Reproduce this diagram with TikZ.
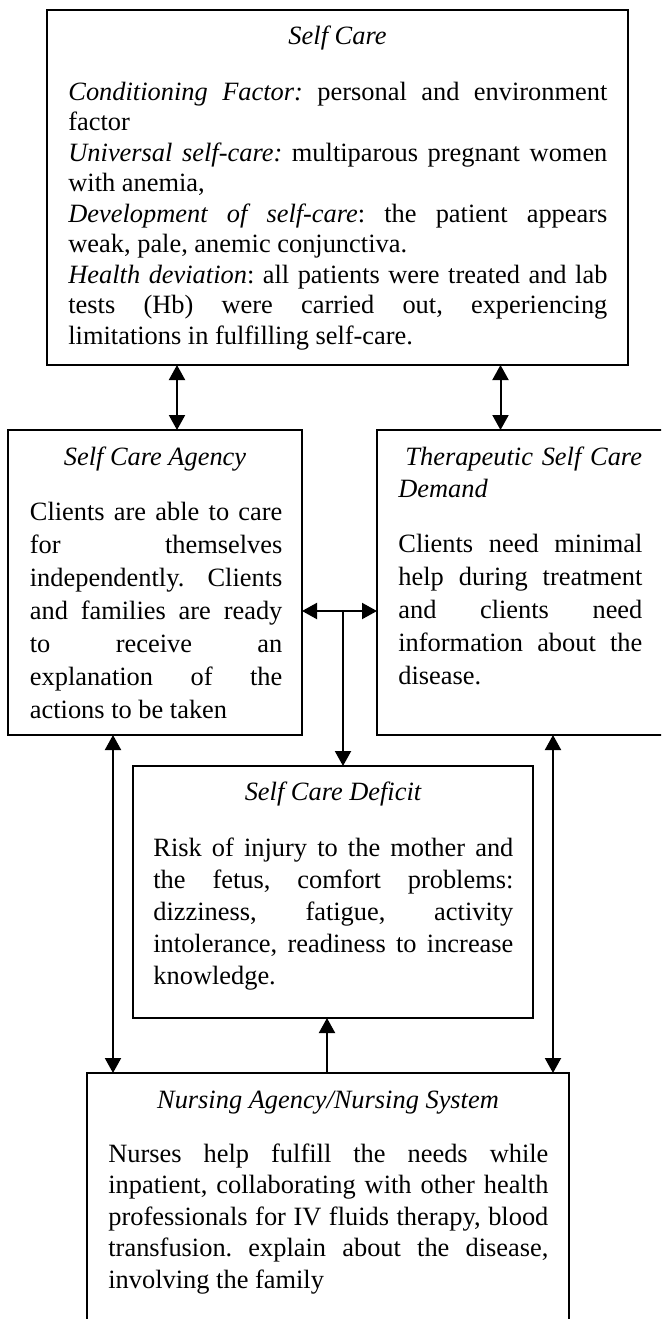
\documentclass[tikz,border=0pt]{standalone}
\usepackage{fontspec}
\setmainfont{Liberation Serif}
\usetikzlibrary{arrows.meta}
\frenchspacing
\begin{document}
\begin{tikzpicture}[x=0.5pt,y=-0.5pt,
  box/.style={draw, line width=0.75pt, inner sep=0pt, outer sep=0pt, anchor=north west},
  ttl/.style={anchor=base, inner sep=0pt, font=\fontsize{13.2}{16}\selectfont\itshape},
  bodytxt/.style={anchor=base west, inner sep=0pt, align=justify},
  tip/.tip={Triangle[width=8pt,length=7.5pt]},
  biarrow/.style={line width=1pt, tip-tip},
  onearrow/.style={line width=1pt, -tip}]
\useasboundingbox (0,0) rectangle (661,1319);
\clip (0,0) rectangle (661,1319);

% boxes
\node[box, minimum width=290.5pt, minimum height=177.5pt] (top) at (47,10) {};
\node[box, minimum width=147pt, minimum height=152.5pt] (agency) at (8,430) {};
\node[box, minimum width=143.5pt, minimum height=152.5pt] (ther) at (377,430) {};
\node[box, minimum width=200pt, minimum height=126pt] (deficit) at (133,766) {};
\node[box, minimum width=241pt, minimum height=140pt] (nurse) at (87,1073) {};

% texts: Self Care
\node[ttl] (topT) at (337.5,44) {Self Care};
\node[bodytxt, text width=269.5pt, font=\fontsize{13.2}{15.25}\selectfont] (topB) at (68,100)
{\textit{Conditioning Factor:} personal and environment\linebreak factor\par
\textit{Universal self-care:} multiparous pregnant women\linebreak with anemia,\par
\textit{Development of self-care}: the patient appears\linebreak weak, pale, anemic conjunctiva.\par
\textit{Health deviation}: all patients were treated and lab\linebreak tests (Hb) were carried out, experiencing\linebreak limitations in fulfilling self-care.\par};

% Self Care Agency
\node[ttl] (agT) at (155,465) {Self Care Agency};
\node[bodytxt, text width=126.25pt, font=\fontsize{13.2}{16.5}\selectfont] (agB) at (29.5,520)
{Clients are able to care\linebreak for themselves\linebreak independently. Clients\linebreak and families are ready\linebreak to receive an\linebreak explanation of the\linebreak actions to be taken\par};

% Therapeutic Self Care Demand
\node[anchor=base west, inner sep=0pt, align=left, text width=122pt, font=\fontsize{13.2}{16}\selectfont\itshape] (thT) at (398,465)
{\hspace*{3.5pt}Therapeutic Self Care\\Demand};
\node[bodytxt, text width=122pt, font=\fontsize{13.2}{16.5}\selectfont] (thB) at (398,552)
{Clients need minimal\linebreak help during treatment\linebreak and clients need\linebreak information about the\linebreak disease.\par};

% Self Care Deficit
\node[ttl] (dfT) at (333,800) {Self Care Deficit};
\node[bodytxt, text width=180pt, font=\fontsize{13.2}{16}\selectfont] (dfB) at (153,856)
{Risk of injury to the mother and\linebreak the fetus, comfort problems:\linebreak dizziness, fatigue, activity\linebreak intolerance, readiness to increase\linebreak knowledge.\par};

% Nursing Agency
\node[ttl] (nuT) at (328,1108) {Nursing Agency/Nursing System};
\node[bodytxt, text width=220pt, font=\fontsize{13.2}{15.75}\selectfont] (nuB) at (108,1162)
{Nurses help fulfill the needs while\linebreak inpatient, collaborating with other health\linebreak professionals for IV fluids therapy, blood\linebreak transfusion. explain about the disease,\linebreak involving the family\par};

% connector positions
\coordinate (xL) at (177,0);
\coordinate (xR) at (500.5,0);
\coordinate (xM) at (343,0);
\coordinate (xLL) at (113,0);
\coordinate (xRR) at (553,0);
\coordinate (xU) at (327,0);
\coordinate (yH) at (0,611);

% connectors
\draw[biarrow] (top.south -| xL) -- (agency.north -| xL);
\draw[biarrow] (top.south -| xR) -- (ther.north -| xR);
\draw[biarrow] (agency.east |- yH) -- (ther.west |- yH);
\draw[onearrow] (xM |- yH) -- (deficit.north -| xM);
\draw[biarrow] (agency.south -| xLL) -- (nurse.north -| xLL);
\draw[biarrow] (ther.south -| xRR) -- (nurse.north -| xRR);
\draw[onearrow] (nurse.north -| xU) -- (deficit.south -| xU);
\end{tikzpicture}
\end{document}
